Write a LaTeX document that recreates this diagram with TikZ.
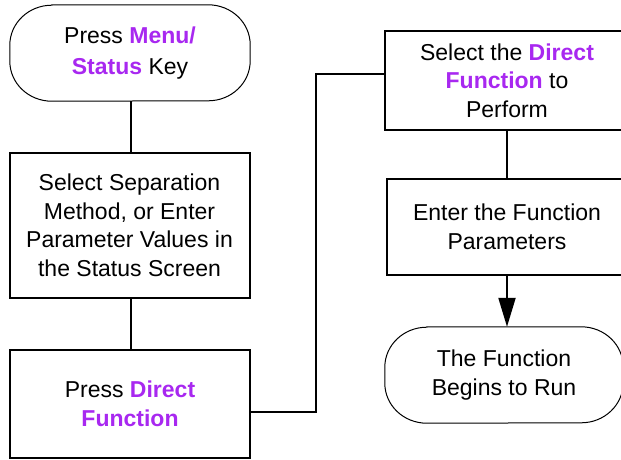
\documentclass[tikz,border=0pt]{standalone}
\usepackage{fontspec}
\setmainfont{Liberation Sans}
\usetikzlibrary{arrows.meta}
\definecolor{keypurple}{RGB}{168,40,240}
\newcommand{\keyword}[1]{\textcolor{keypurple}{\bfseries #1}}
% outline of a terminal node: short straight sides with wide elliptical corners
\newcommand{\terminaloutline}[1]{%
  \draw[line width=1pt]
    ([xshift=42pt]#1.north west) -- ([xshift=-42pt]#1.north east)
    arc[start angle=90, end angle=0, x radius=42pt, y radius=40pt]
    -- ++(0pt,-16pt)
    arc[start angle=0, end angle=-90, x radius=42pt, y radius=40pt]
    -- ([xshift=42pt]#1.south west)
    arc[start angle=270, end angle=180, x radius=42pt, y radius=40pt]
    -- ++(0pt,16pt)
    arc[start angle=180, end angle=90, x radius=42pt, y radius=40pt]
    -- cycle;}
\tikzset{
  every node/.style={font=\fontsize{23}{28.5}\selectfont, align=center, inner sep=0pt},
  terminal/.style={minimum height=96pt},
  stepbox/.style={draw, line width=2pt},
  link/.style={line width=2pt},
}
\begin{document}
\begin{tikzpicture}[x=1pt, y=-1pt]
  \useasboundingbox (0,0) rectangle (621,459);

  % left column
  \node[terminal, minimum width=240pt] (start) at (130,53)
    {\raisebox{-2pt}{\parbox{236pt}{\centering Press \keyword{Menu/}\\[2pt]\keyword{Status} Key}}};
  \terminaloutline{start}
  \node[stepbox, minimum width=240pt, minimum height=145pt] (sep) at (129.5,225.5)
    {Select Separation\\Method, or Enter\\Parameter Values in\\the Status Screen};
  \node[stepbox, minimum width=240pt, minimum height=108pt] (press) at (130,404)
    {Press \keyword{Direct}\\\keyword{Function}};

  % right column
  \node[stepbox, minimum width=244pt, minimum height=99pt] (select) at (507,80.5)
    {\raisebox{4pt}{\parbox{240pt}{\centering Select the \keyword{Direct}\\\keyword{Function} to\\Perform}}};
  \node[stepbox, minimum width=240pt, minimum height=96pt] (params) at (507,227)
    {Enter the Function\\Parameters};
  \node[terminal, minimum width=238pt] (run) at (504,375)
    {The Function\\Begins to Run};
  \terminaloutline{run}

  % connectors
  \draw[link] (start.south -| 131,0) -- (sep.north -| 131,0);
  \draw[link] (sep.south -| 131,0) -- (press.north -| 131,0);

  \coordinate (jog) at (316,0);
  \coordinate (out3) at ([yshift=-8pt]press.east);
  \coordinate (in4) at ([yshift=6.5pt]select.west);
  \draw[link] (out3) -- (out3 -| jog) |- (in4);

  \draw[link] (select.south) -- (params.north);
  \draw[link, -{Triangle[width=17pt,length=29pt]}] (params.south) -- (params.south |- run.north);
\end{tikzpicture}
\end{document}
